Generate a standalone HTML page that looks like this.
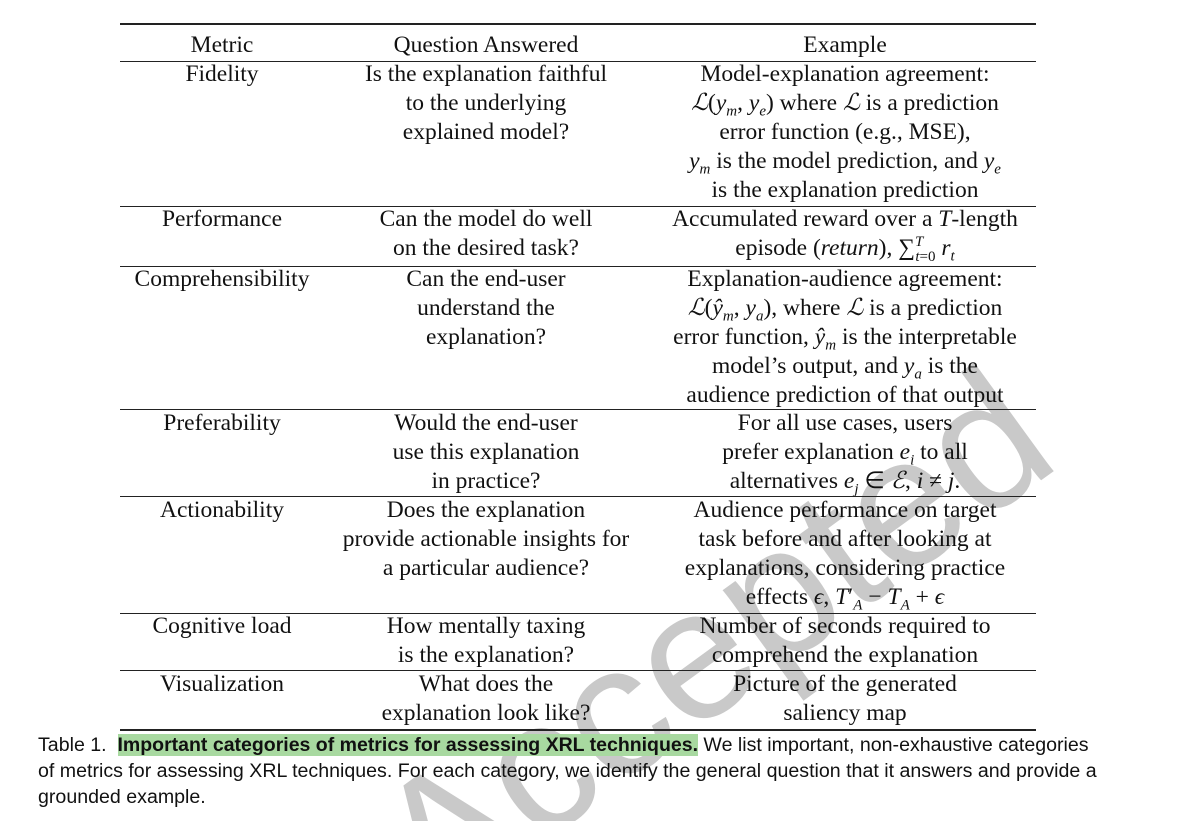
<!DOCTYPE html>
<html><head><meta charset="utf-8"><style>
html,body{margin:0;width:1185px;height:821px;overflow:hidden}
body{background:#fff;position:relative;font-family:"Liberation Serif",serif;color:#111}
.wmbox{position:absolute;left:0;top:0;width:1185px;height:821px;overflow:hidden;z-index:0}
.wm{position:absolute;left:325px;top:548px;font-family:"Liberation Sans",sans-serif;font-size:186px;color:#c9c9c9;transform:rotate(-36deg);transform-origin:center;white-space:nowrap;line-height:1}
.rule{position:absolute;left:120px;width:916px;background:#222;z-index:2}
.c{position:absolute;text-align:center;font-size:23.5px;line-height:29px;z-index:3;white-space:nowrap}
.c1{left:120px;width:204px}.c2{left:330px;width:312px}.c3{left:650px;width:390px}
i{font-style:italic}
.cap{position:absolute;left:38px;font-family:"Liberation Sans",sans-serif;font-size:19.6px;line-height:26px;z-index:3;white-space:nowrap}
.hl{background:#a8d9a0;font-weight:bold;font-size:19.5px}
sub,sup{font-size:15px;line-height:0}
</style></head><body>
<div class="wmbox"><div class="wm">Accepted</div></div>
<div class="rule" style="top:23px;height:2px"></div>
<div class="rule" style="top:61px;height:1px"></div>
<div class="rule" style="top:206px;height:1px"></div>
<div class="rule" style="top:266px;height:1px"></div>
<div class="rule" style="top:409px;height:1px"></div>
<div class="rule" style="top:496px;height:1px"></div>
<div class="rule" style="top:613px;height:1px"></div>
<div class="rule" style="top:670px;height:1px"></div>
<div class="rule" style="top:729px;height:2px"></div>

<div class="c c1" style="top:31px">Metric</div>
<div class="c c2" style="top:31px">Question Answered</div>
<div class="c c3" style="top:31px">Example</div>

<div class="c c1" style="top:60px">Fidelity</div>
<div class="c c2" style="top:60px">Is the explanation faithful<br>to the underlying<br>explained model?</div>
<div class="c c3" style="top:60px">Model-explanation agreement:<br><i>ℒ</i>(<i>y<sub>m</sub></i>, <i>y<sub>e</sub></i>) where <i>ℒ</i> is a prediction<br>error function (e.g., MSE),<br><i>y<sub>m</sub></i> is the model prediction, and <i>y<sub>e</sub></i><br>is the explanation prediction</div>

<div class="c c1" style="top:205px">Performance</div>
<div class="c c2" style="top:205px">Can the model do well<br>on the desired task?</div>
<div class="c c3" style="top:205px">Accumulated reward over a <i>T</i>-length<br>episode (<i>return</i>), ∑<sup><i>T</i></sup><sub style="margin-left:-8px"><i>t</i>=0</sub> <i>r<sub>t</sub></i></div>

<div class="c c1" style="top:265px">Comprehensibility</div>
<div class="c c2" style="top:265px">Can the end-user<br>understand the<br>explanation?</div>
<div class="c c3" style="top:265px">Explanation-audience agreement:<br><i>ℒ</i>(<i>ŷ<sub>m</sub></i>, <i>y<sub>a</sub></i>), where <i>ℒ</i> is a prediction<br>error function, <i>ŷ<sub>m</sub></i> is the interpretable<br>model’s output, and <i>y<sub>a</sub></i> is the<br>audience prediction of that output</div>

<div class="c c1" style="top:409px">Preferability</div>
<div class="c c2" style="top:409px">Would the end-user<br>use this explanation<br>in practice?</div>
<div class="c c3" style="top:409px">For all use cases, users<br>prefer explanation <i>e<sub>i</sub></i> to all<br>alternatives <i>e<sub>j</sub></i> ∈ <i>ℰ</i>, <i>i</i> ≠ <i>j</i>.</div>

<div class="c c1" style="top:496px">Actionability</div>
<div class="c c2" style="top:496px">Does the explanation<br>provide actionable insights for<br>a particular audience?</div>
<div class="c c3" style="top:496px">Audience performance on target<br>task before and after looking at<br>explanations, considering practice<br>effects <i>ϵ</i>, <i>T</i>′<sub><i>A</i></sub> − <i>T<sub>A</sub></i> + <i>ϵ</i></div>

<div class="c c1" style="top:612px">Cognitive load</div>
<div class="c c2" style="top:612px">How mentally taxing<br>is the explanation?</div>
<div class="c c3" style="top:612px">Number of seconds required to<br>comprehend the explanation</div>

<div class="c c1" style="top:670px">Visualization</div>
<div class="c c2" style="top:670px">What does the<br>explanation look like?</div>
<div class="c c3" style="top:670px">Picture of the generated<br>saliency map</div>

<div class="cap" style="top:732px">Table 1. &nbsp;<span class="hl">Important categories of metrics for assessing XRL techniques.</span> We list important, non-exhaustive categories<br>of metrics for assessing XRL techniques. For each category, we identify the general question that it answers and provide a<br>grounded example.</div>
</body></html>
